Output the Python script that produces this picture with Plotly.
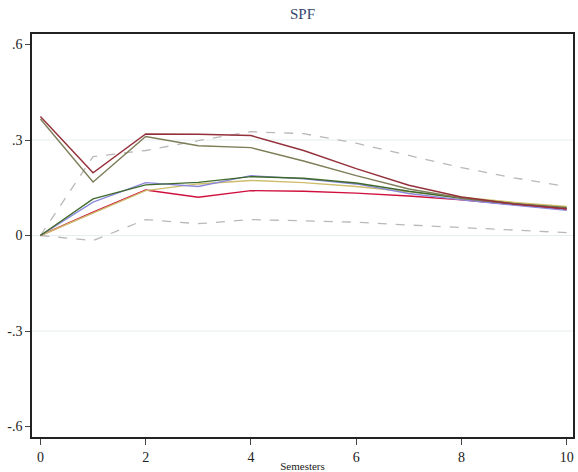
import plotly.graph_objects as go

semesters = [0, 1, 2, 3, 4, 5, 6, 7, 8, 9, 10]

upper_band = [0.0, 0.248, 0.267, 0.298, 0.326, 0.320, 0.290, 0.251, 0.213, 0.181, 0.154]
lower_band = [0.0, -0.016, 0.050, 0.037, 0.050, 0.046, 0.042, 0.033, 0.024, 0.017, 0.009]

dark_red = [0.374, 0.197, 0.319, 0.318, 0.314, 0.267, 0.210, 0.158, 0.121, 0.099, 0.084]
olive = [0.366, 0.168, 0.311, 0.282, 0.276, 0.234, 0.188, 0.146, 0.118, 0.100, 0.086]
green = [0.0, 0.115, 0.159, 0.167, 0.185, 0.180, 0.165, 0.139, 0.117, 0.100, 0.087]
blue = [0.0, 0.105, 0.166, 0.154, 0.188, 0.178, 0.162, 0.132, 0.112, 0.096, 0.079]
khaki = [0.0, 0.070, 0.141, 0.162, 0.173, 0.166, 0.154, 0.137, 0.120, 0.104, 0.091]
crimson = [0.0, 0.073, 0.143, 0.120, 0.141, 0.139, 0.133, 0.124, 0.112, 0.097, 0.082]

y_ticks = [-0.6, -0.3, 0, 0.3, 0.6]
y_tick_text = ["-.6", "-.3", "0", ".3", ".6"]
grid_levels = [-0.3, 0, 0.3]
x_ticks = [0, 2, 4, 6, 8, 10]

FONT = "Liberation Serif"

fig = go.Figure()

for band in (upper_band, lower_band):
    fig.add_trace(go.Scatter(x=semesters, y=band, mode="lines",
                             line=dict(color="#b8b8b8", width=1.3, dash="dash"),
                             showlegend=False, hoverinfo="skip"))

series = [
    (crimson, "#d0103c"),
    (khaki, "#cdbd6c"),
    (blue, "#8b88dc"),
    (green, "#3f6a2c"),
    (olive, "#7d7d58"),
    (dark_red, "#94303a"),
]
for vals, col in series:
    fig.add_trace(go.Scatter(x=semesters, y=vals, mode="lines",
                             line=dict(color=col, width=1.4),
                             showlegend=False))

for g in grid_levels:
    fig.add_hline(y=g, line=dict(color="#e6eef0", width=1), layer="below")

fig.update_layout(
    width=578, height=472,
    margin=dict(l=32, r=5, t=34, b=35),
    paper_bgcolor="white", plot_bgcolor="white",
    font=dict(family=FONT, color="#222", size=14),
    title=dict(text="SPF", x=0.5, xref="paper", y=1, yref="container",
               yanchor="top", pad=dict(t=8),
               font=dict(family=FONT, size=15, color="#34456e")),
    showlegend=False,
)

fig.update_xaxes(
    range=[-0.16, 10.12], tickvals=x_ticks, ticks="outside", ticklen=6,
    tickcolor="#444", showgrid=False, zeroline=False, automargin=False,
    showline=True, linecolor="#222", linewidth=1.5, mirror=True,
    tickfont=dict(family=FONT, size=14, color="#222"),
    title=dict(text="Semesters", font=dict(family=FONT, size=11, color="#222"), standoff=0),
)
fig.update_yaxes(
    range=[-0.633, 0.633], tickvals=y_ticks, ticktext=y_tick_text,
    ticks="outside", ticklen=5, tickcolor="#444", showgrid=False, zeroline=False,
    automargin=False,
    showline=True, linecolor="#222", linewidth=1.5, mirror=True,
    tickfont=dict(family=FONT, size=14, color="#222"),
)

fig.write_html("out.html")
